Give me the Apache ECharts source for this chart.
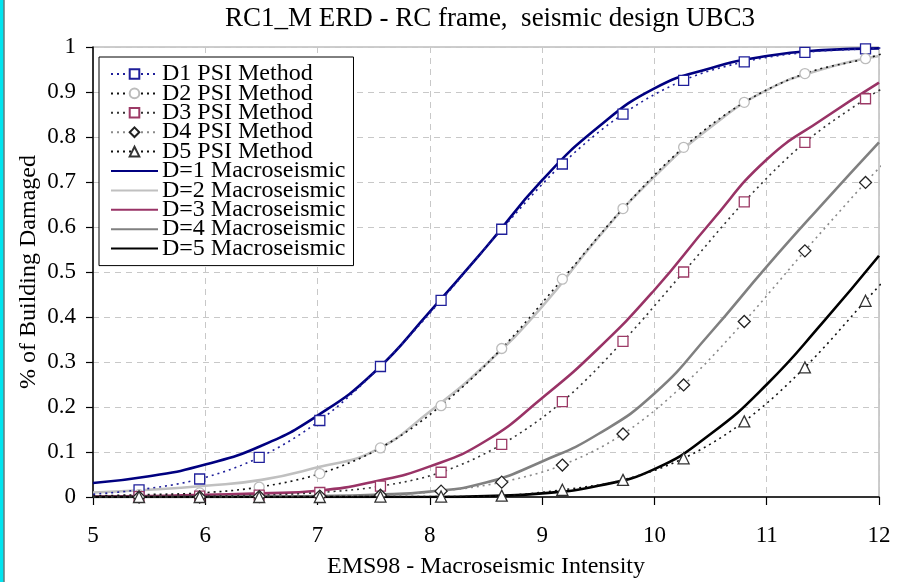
<!DOCTYPE html>
<html>
<head>
<meta charset="utf-8">
<title>RC1_M ERD - RC frame, seismic design UBC3</title>
<script src="https://cdn.jsdelivr.net/npm/echarts@6/dist/echarts.min.js"></script>
<style>
  html, body { margin: 0; padding: 0; background: #ffffff; }
  #chart { width: 903px; height: 582px; }
</style>
</head>
<body>
<div id="chart"></div>
<script>
// Intensity values where the PSI-method damage points were evaluated
const psiX = [5.41, 5.95, 6.48, 7.02, 7.56, 8.10, 8.64, 9.18, 9.72, 10.26, 10.80, 11.34, 11.88];
const psiD1 = [0.016, 0.040, 0.088, 0.170, 0.290, 0.437, 0.595, 0.740, 0.851, 0.926, 0.967, 0.988, 0.996];
const psiD2 = [0.005, 0.009, 0.022, 0.052, 0.109, 0.203, 0.330, 0.484, 0.641, 0.777, 0.877, 0.941, 0.974];
const psiD3 = [0.001, 0.002, 0.004, 0.010, 0.024, 0.055, 0.117, 0.212, 0.346, 0.500, 0.656, 0.788, 0.885];
const psiD4 = [0.000, 0.000, 0.001, 0.002, 0.004, 0.013, 0.033, 0.071, 0.140, 0.249, 0.390, 0.547, 0.699];
const psiD5 = [0.000, 0.000, 0.000, 0.000, 0.001, 0.001, 0.003, 0.016, 0.038, 0.086, 0.168, 0.288, 0.436];
// The dotted PSI curves run slightly past both ends of the intensity axis
const psiEndX = [4.95, 12.04];
const psiEndD1 = [0.005, 0.998];
const psiEndD2 = [0.002, 0.986];
const psiEndD3 = [0.000, 0.909];
const psiEndD4 = [0.000, 0.741];
const psiEndD5 = [0.000, 0.480];

// Macroseismic-method damage curves
const macroX = [5, 5.5, 6, 6.5, 7, 7.5, 8, 8.5, 9, 9.5, 10, 10.5, 11, 11.5, 12];
const macroD1 = [0.031, 0.046, 0.072, 0.114, 0.181, 0.276, 0.412, 0.555, 0.704, 0.822, 0.908, 0.953, 0.980, 0.993, 0.997];
const macroD2 = [0.010, 0.016, 0.025, 0.038, 0.066, 0.102, 0.190, 0.295, 0.423, 0.577, 0.712, 0.822, 0.904, 0.951, 0.980];
const macroD3 = [0.001, 0.002, 0.005, 0.008, 0.014, 0.034, 0.068, 0.125, 0.220, 0.330, 0.460, 0.610, 0.750, 0.840, 0.921];
const macroD4 = [0.000, 0.000, 0.000, 0.001, 0.002, 0.005, 0.012, 0.032, 0.079, 0.140, 0.230, 0.365, 0.512, 0.652, 0.788];
const macroD5 = [0.000, 0.000, 0.000, 0.000, 0.000, 0.000, 0.000, 0.002, 0.008, 0.025, 0.062, 0.140, 0.250, 0.388, 0.536];

const xTicks = [5, 6, 7, 8, 9, 10, 11, 12];
const yTicks = [0, 0.1, 0.2, 0.3, 0.4, 0.5, 0.6, 0.7, 0.8, 0.9, 1];

const FONT = '"Liberation Serif", "Times New Roman", serif';

function psiData(ys, ends) {
  const out = [{ value: [psiEndX[0], ends[0]], symbol: 'none' }];
  psiX.forEach((x, i) => out.push([x, ys[i]]));
  out.push({ value: [psiEndX[1], ends[1]], symbol: 'none' });
  return out;
}
function macroData(ys) {
  return macroX.map((x, i) => [x, ys[i]]);
}

function psiSeries(name, ys, ends, lineColor, symbol, size, markColor) {
  return {
    name: name,
    type: 'line',
    data: psiData(ys, ends),
    smooth: 0.35,
    clip: false,
    z: 4,
    symbol: symbol,
    symbolSize: size,
    showAllSymbol: true,
    lineStyle: { color: lineColor, width: 1.6, type: [2, 4] },
    itemStyle: { color: '#ffffff', borderColor: markColor, borderWidth: 1.3 },
    emphasis: { disabled: true }
  };
}
function macroSeries(name, ys, color) {
  return {
    name: name,
    type: 'line',
    data: macroData(ys),
    smooth: 0.5,
    symbol: 'none',
    z: 3,
    lineStyle: { color: color, width: 2.6 },
    itemStyle: { color: color },
    emphasis: { disabled: true }
  };
}

const psiNames = ['D1 PSI Method', 'D2 PSI Method', 'D3 PSI Method', 'D4 PSI Method', 'D5 PSI Method'];
const macroNames = ['D=1 Macroseismic', 'D=2 Macroseismic', 'D=3 Macroseismic', 'D=4 Macroseismic', 'D=5 Macroseismic'];

const chart = echarts.init(document.getElementById('chart'), null, { renderer: 'canvas' });

chart.setOption({
  animation: false,
  backgroundColor: '#ffffff',
  textStyle: { fontFamily: FONT },
  graphic: [
    { type: 'rect', left: 0, top: 0, shape: { width: 3.5, height: 582 }, style: { fill: '#00e4ef' } },
    { type: 'rect', left: 3.5, top: 0, shape: { width: 1, height: 582 }, style: { fill: '#1a3a3a' } },
    {
      type: 'text', x: 490, y: 19,
      style: {
        text: 'RC1_M ERD - RC frame,  seismic design UBC3',
        font: '27px ' + FONT, fill: '#000', align: 'center', verticalAlign: 'middle'
      }
    }
  ],
  grid: {
    left: 93, right: 24, top: 47, bottom: 85,
    outerBoundsMode: 'none',
    containLabel: false,
    show: true, borderColor: '#9a9a9a', borderWidth: 1, backgroundColor: 'transparent'
  },
  legend: {
    orient: 'vertical',
    left: 99, top: 57,
    padding: [5, 8, 5, 11],
    itemGap: -4.6,
    itemWidth: 47,
    itemHeight: 12,
    backgroundColor: '#ffffff',
    borderColor: '#000000',
    borderWidth: 1,
    borderRadius: 0,
    selectedMode: false,
    textStyle: { fontFamily: FONT, fontSize: 24, color: '#000', padding: [0, 0, 0, -1] },
    data: psiNames.map(n => ({ name: n }))
      .concat(macroNames.map(n => ({ name: n, itemStyle: { opacity: 0 } })))
  },
  xAxis: {
    type: 'value',
    min: xTicks[0], max: xTicks[xTicks.length - 1], interval: 1,
    name: 'EMS98 - Macroseismic Intensity',
    nameLocation: 'middle', nameGap: 58,
    nameMoveOverlap: false,
    nameTextStyle: { fontFamily: FONT, fontSize: 24, color: '#000' },
    axisLine: { show: true, onZero: false, lineStyle: { color: '#000', width: 1.5 } },
    axisTick: { show: true, inside: false, length: 8, lineStyle: { color: '#000', width: 1.2 } },
    axisLabel: { fontFamily: FONT, fontSize: 23, color: '#000', margin: 27 },
    splitLine: { show: true, lineStyle: { color: '#c8c8c8', type: [6, 5], width: 1 } }
  },
  yAxis: {
    type: 'value',
    min: yTicks[0], max: yTicks[yTicks.length - 1], interval: 0.1,
    name: '% of Building Damaged',
    nameLocation: 'middle', nameGap: 52,
    nameMoveOverlap: false,
    nameTextStyle: { fontFamily: FONT, fontSize: 24, color: '#000' },
    axisLine: { show: true, onZero: false, lineStyle: { color: '#000', width: 1.5 } },
    axisTick: { show: true, inside: false, length: 7, lineStyle: { color: '#000', width: 1.2 } },
    axisLabel: {
      fontFamily: FONT, fontSize: 23, color: '#000', margin: 17,
      formatter: v => String(Math.round(v * 10) / 10)
    },
    splitLine: { show: true, lineStyle: { color: '#c8c8c8', type: [6, 5], width: 1 } }
  },
  series: [
    psiSeries(psiNames[0], psiD1, psiEndD1, '#1f1f9a', 'rect', 10, '#1f1f9a'),
    psiSeries(psiNames[1], psiD2, psiEndD2, '#111111', 'circle', 10, '#bcbcbc'),
    psiSeries(psiNames[2], psiD3, psiEndD3, '#333333', 'rect', 10, '#9c3a66'),
    psiSeries(psiNames[3], psiD4, psiEndD4, '#8a8a8a', 'diamond', 12, '#222222'),
    psiSeries(psiNames[4], psiD5, psiEndD5, '#111111', 'triangle', 11, '#333333'),
    macroSeries(macroNames[0], macroD1, '#000080'),
    macroSeries(macroNames[1], macroD2, '#c0c0c0'),
    macroSeries(macroNames[2], macroD3, '#993366'),
    macroSeries(macroNames[3], macroD4, '#808080'),
    macroSeries(macroNames[4], macroD5, '#000000')
  ]
});
</script>
</body>
</html>
